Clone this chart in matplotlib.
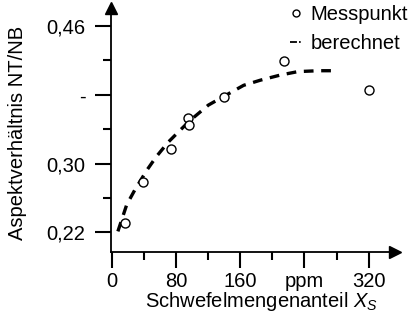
import matplotlib
matplotlib.use("Agg")
import matplotlib.pyplot as plt
from matplotlib.lines import Line2D

plt.rcParams['font.family'] = ['Liberation Sans', 'DejaVu Sans']
plt.rcParams['mathtext.fontset'] = 'custom'
plt.rcParams['mathtext.it'] = 'Liberation Sans:italic'
plt.rcParams['mathtext.rm'] = 'Liberation Sans'
plt.rcParams['lines.scale_dashes'] = False

# measured points
mess_x = [16, 38, 73, 94, 96, 139, 214, 321]
mess_y = [0.231, 0.278, 0.317, 0.353, 0.345, 0.377, 0.419, 0.385]

# calculated curve
calc_x = [7, 18, 28, 43, 55, 70, 85, 97, 120, 139, 164, 185, 210, 232, 258, 276]
calc_y = [0.221, 0.252, 0.269, 0.292, 0.308, 0.325, 0.339, 0.350, 0.368, 0.378,
          0.391, 0.397, 0.403, 0.407, 0.408, 0.408]

x_major = [0, 80, 160, 240, 320]
x_major_labels = ["0", "80", "160", "ppm", "320"]
x_minor = [40, 120, 200, 280]
y_major = [0.22, 0.30, 0.38, 0.46]
y_major_labels = ["0,22", "0,30", "-", "0,46"]
y_minor = [0.26, 0.34, 0.42]

FS = 14.5

fig = plt.figure(figsize=(4.14, 3.25), dpi=100)
ax = fig.add_axes([111/414, 1-252/325, (395-111)/414, (252-8)/325])

ax.plot(calc_x, calc_y, color='black', lw=2.4, linestyle=(0, (7, 5.5)), label='berechnet')
ax.plot(mess_x, mess_y, linestyle='none', marker='o', ms=6.5, mfc='white', mec='black',
        mew=1.0, label='Messpunkt')

ax.set_xlim(-1.6, 353)
ax.set_ylim(0.197, 0.481)

for s in ['top', 'right']:
    ax.spines[s].set_visible(False)
for s in ['left', 'bottom']:
    ax.spines[s].set_linewidth(1.3)

ax.plot(1, 0, marker='>', color='black', ms=8, transform=ax.transAxes, clip_on=False)
ax.plot(0, 1, marker='^', color='black', ms=8, transform=ax.transAxes, clip_on=False)

ax.set_xticks(x_major)
ax.set_xticklabels(x_major_labels)
ax.set_xticks(x_minor, minor=True)
ax.set_yticks(y_major)
ax.set_yticklabels(y_major_labels)
ax.set_yticks(y_minor, minor=True)
ax.tick_params(which='major', length=11.5, width=1.5, labelsize=FS, pad=3)
ax.tick_params(which='minor', length=5.5, width=1.5)
ax.tick_params(axis='y', which='major', pad=7)

ax.set_xlabel('Schwefelmengenanteil $X_S$', fontsize=FS)
ax.xaxis.set_label_coords(0.53, -0.155)
ax.set_ylabel('Aspektverhältnis NT/NB', fontsize=FS)
ax.yaxis.set_label_coords(-0.295, 0.49)

h = [Line2D([], [], linestyle='none', marker='o', ms=5, mfc='white', mec='black', mew=1.0),
     Line2D([], [], color='black', lw=1.3, linestyle=(0, (5, 1.5, 1.2, 3)))]
ax.legend(h, ['Messpunkt', 'berechnet'], loc='upper right', bbox_to_anchor=(1.075, 1.045),
          frameon=False, fontsize=FS, handlelength=0.6, handletextpad=0.45,
          labelspacing=0.5, borderaxespad=0)

fig.savefig('out.png', dpi=100)
